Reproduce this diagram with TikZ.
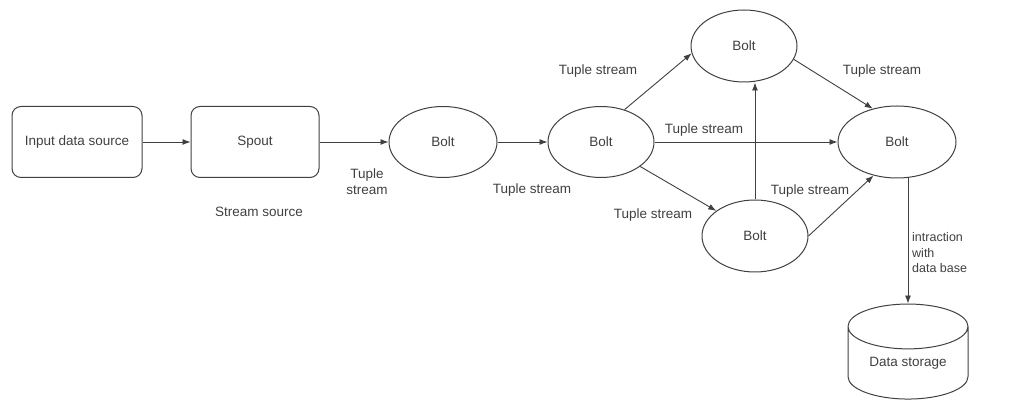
\documentclass[tikz,border=0pt]{standalone}
\usepackage{fontspec}
\setmainfont{Liberation Sans}
\usepackage{tikz}
\usetikzlibrary{arrows.meta,positioning,shapes.geometric}

\begin{document}
\begin{tikzpicture}[
  x=1pt, y=1pt,
  every node/.style={font=\fontsize{13.5}{16}\selectfont, text=black!75},
  box/.style={draw=black!75, line width=1pt, rounded corners=9pt, align=center,
              minimum width=130pt, minimum height=71pt, inner sep=2pt},
  bolt/.style={draw=black!75, line width=1pt, ellipse, minimum width=106pt,
               minimum height=71pt, inner sep=0pt},
  store/.style={draw=black!75, line width=1pt, cylinder, shape border rotate=90,
                aspect=0.58, minimum width=120pt, minimum height=95pt, inner sep=0pt},
  lbl/.style={align=left, inner sep=1pt},
  arr/.style={-{Latex[length=8pt,width=6pt]}, draw=black!75, line width=0.9pt}
]
\useasboundingbox (0,0) rectangle (1010,401);

\node[box] (src) at (77,259) {Input data source};
\node[box, right=48pt of src, minimum width=128pt] (spout) {Spout};
\node[bolt, minimum width=108pt] (bolta) at (443,259) {Bolt};
\node[bolt] (boltb) at (601,259) {Bolt};
\node[bolt, minimum height=72pt] (boltup) at (744,355) {Bolt};
\node[bolt, minimum height=72pt] (boltdn) at (755,165) {Bolt};
\node[bolt, minimum width=118pt, minimum height=72pt] (boltout) at (897,259) {Bolt};
\node[store] (db) at (908,38) {\raisebox{-7pt}{Data storage}};

\node[lbl, align=center] (l1) at (367,219) {Tuple\\stream};
\node[lbl] (l2) at (259,189) {Stream source};
\node[lbl] (l3) at (532,211) {Tuple stream};
\node[lbl] (l4) at (598,330) {Tuple stream};
\node[lbl] (l5) at (704,271) {Tuple stream};
\node[lbl] (l6) at (653,186) {Tuple stream};
\node[lbl] (l7) at (882,330) {Tuple stream};
\node[lbl] (l8) at (810,210) {Tuple stream};
\node[lbl, anchor=west, font=\fontsize{12.5}{15.5}\selectfont] (l9) at (911,148) {intraction\\with\\data base};

\draw[arr] (src) -- (spout);
\draw[arr] (spout) -- (bolta);
\draw[arr] (bolta) -- (boltb);
\draw[arr] (boltb.54) -- (boltup.188);
\draw[arr] (boltb) -- (boltout);
\draw[arr] (boltb.-32) -- (boltdn.147);
\draw[arr] (boltdn.north) -- (boltdn.north |- boltup.south);
\draw[arr] (boltup.-15) -- (boltout.126);
\draw[arr] (boltdn.east) -- (boltout.235);
\draw[arr] (db.north |- boltout.south) -- (db.north);
\end{tikzpicture}
\end{document}
